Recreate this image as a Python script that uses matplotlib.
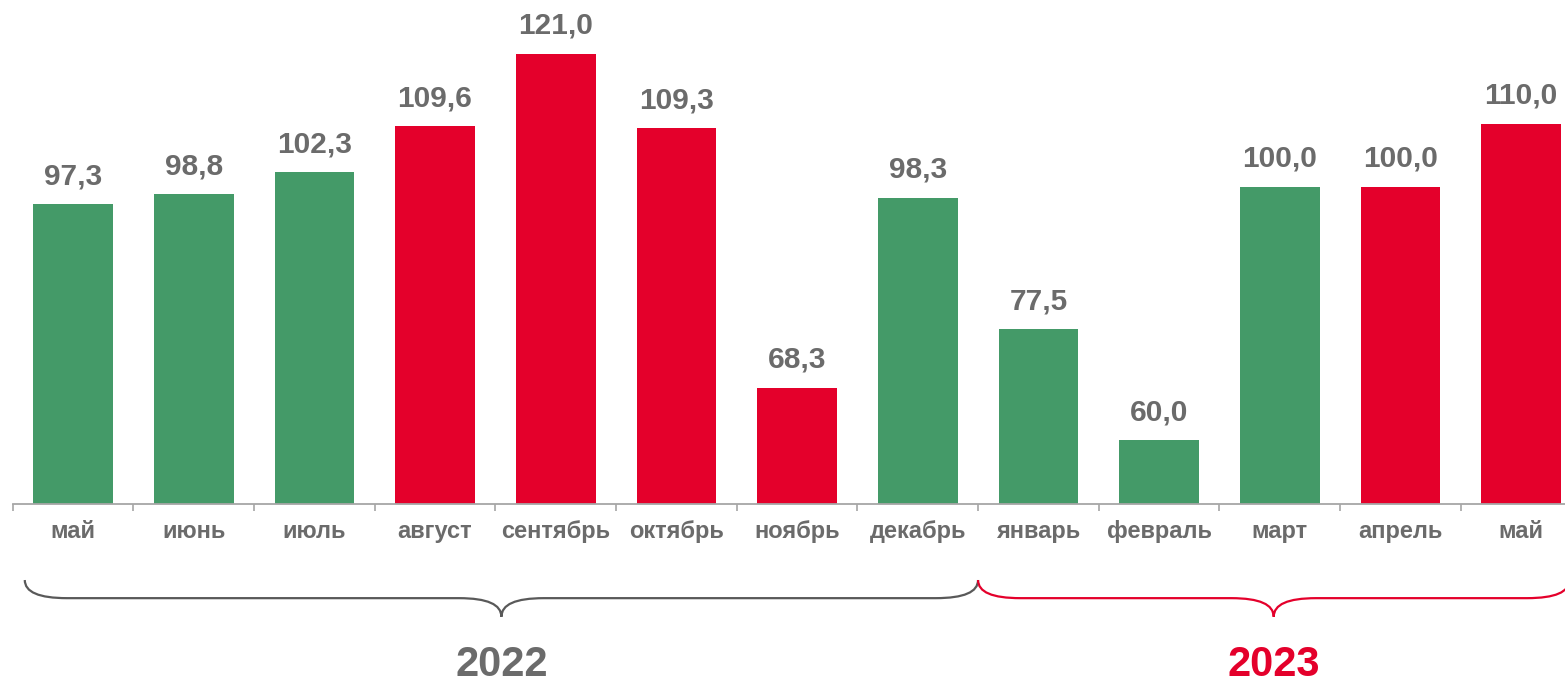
import matplotlib.pyplot as plt
from matplotlib.path import Path
from matplotlib.patches import PathPatch

plt.rcParams['font.family'] = ['Liberation Sans', 'DejaVu Sans']

MONTHS = ['май', 'июнь', 'июль', 'август', 'сентябрь', 'октябрь', 'ноябрь',
          'декабрь', 'январь', 'февраль', 'март', 'апрель', 'май']
VALUES = [97.3, 98.8, 102.3, 109.6, 121.0, 109.3, 68.3, 98.3, 77.5, 60.0,
          100.0, 100.0, 110.0]
IS_RED = [False, False, False, True, True, True, True, False, False, False,
          False, True, True]
YEARS = ['2022', '2023']
YEAR_SPANS = [(-0.4, 7.5), (7.5, 12.4)]

GREEN = '#449A68'
RED = '#E4002B'
GRAY = '#6B6B6B'
BRACE_GRAY = '#595959'

W, H = 1565, 686
fig = plt.figure(figsize=(W / 100, H / 100), dpi=100)
ax = fig.add_axes([12.7 / W, (H - 503.5) / H, 1568.7 / W, 503.5 / H])

x = range(len(VALUES))
colors = [RED if r else GREEN for r in IS_RED]
ax.bar(x, VALUES, width=0.66, color=colors, zorder=2)

for i, v in enumerate(VALUES):
    ax.annotate(('%.1f' % v).replace('.', ','), (i, v), xytext=(0, 10),
                textcoords='offset points', ha='center', va='bottom',
                fontsize=21.5, fontweight='bold', color=GRAY)

ax.set_xlim(-0.5, 12.5)
ax.set_ylim(50, 129.5)
ax.set_yticks([])
for s in ['top', 'right', 'left']:
    ax.spines[s].set_visible(False)
ax.spines['bottom'].set_color('#A6A6A6')
ax.spines['bottom'].set_linewidth(1.3)

# boundary ticks between months, labels on minor ticks at bar centres
ax.set_xticks([i - 0.5 for i in range(14)], minor=False)
ax.set_xticklabels([])
ax.tick_params(axis='x', which='major', length=5, width=1.2, color='#A6A6A6')
ax.set_xticks(list(x), minor=True)
ax.set_xticklabels(MONTHS, minor=True, fontsize=17, fontweight='bold', color=GRAY)
ax.tick_params(axis='x', which='minor', length=0, pad=12)


def brace(x0, x1, color):
    # y in axes fraction, x in data units
    y_top, y_mid, y_bot = -0.152, -0.188, -0.225
    r = 0.35
    tip = (x0 + x1) / 2
    verts = [(x0, y_top), (x0, y_mid), (x0 + r, y_mid),
             (tip - r, y_mid), (tip, y_mid), (tip, y_bot),
             (tip, y_mid), (tip + r, y_mid),
             (x1 - r, y_mid), (x1, y_mid), (x1, y_top)]
    codes = [Path.MOVETO, Path.CURVE3, Path.CURVE3,
             Path.LINETO, Path.CURVE3, Path.CURVE3,
             Path.CURVE3, Path.CURVE3,
             Path.LINETO, Path.CURVE3, Path.CURVE3]
    patch = PathPatch(Path(verts, codes), fill=False, edgecolor=color,
                      linewidth=1.6, transform=ax.get_xaxis_transform(),
                      clip_on=False)
    ax.add_patch(patch)
    return tip


for year, (x0, x1), color in zip(YEARS, YEAR_SPANS, [BRACE_GRAY, RED]):
    tip = brace(x0, x1, color)
    ax.text(tip, -0.32, year, transform=ax.get_xaxis_transform(),
            ha='center', va='center', fontsize=30, fontweight='bold',
            color=GRAY if color == BRACE_GRAY else RED)

fig.savefig('out.png', dpi=100)
